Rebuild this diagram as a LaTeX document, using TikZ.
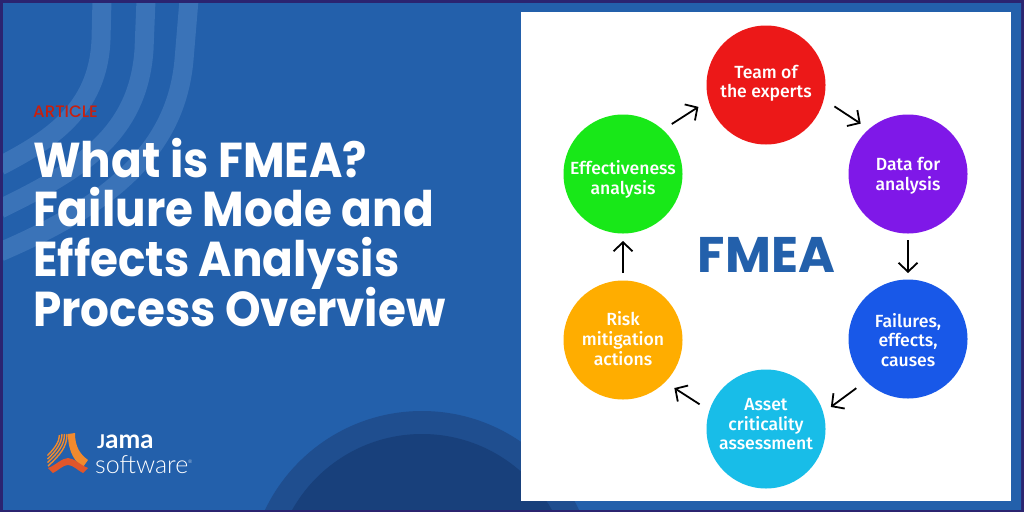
\documentclass[tikz,border=0pt]{standalone}
\usepackage{fontspec}
\usetikzlibrary{arrows.meta}
\setmainfont{Fira Sans Medium}
\newfontfamily\titlefont{Poppins}[UprightFont=* Bold,FakeStretch=0.925]
\newfontfamily\fmeafont{Poppins}[UprightFont=* Bold]
\newfontfamily\articlefont{Poppins}[UprightFont=* Medium]
\newfontfamily\logolight{Lato Light}
\newfontfamily\logobold{Lato}[UprightFont=* Bold]
\newcommand\stagetext[2]{\raisebox{#1}[0pt][0pt]{\begin{tabular}{@{}c@{}}#2\end{tabular}}}
\definecolor{bgblue}{HTML}{2360AB}
\definecolor{navy}{HTML}{2B2470}
\definecolor{bandblue}{HTML}{3A73B8}
\definecolor{arcA}{HTML}{1F4E8F}
\definecolor{arcB}{HTML}{18407B}
\definecolor{fmeablue}{HTML}{2360AB}
\definecolor{artred}{HTML}{C8200E}
\definecolor{cTeam}{HTML}{EC1818}
\definecolor{cData}{HTML}{7F18E8}
\definecolor{cFail}{HTML}{1858E8}
\definecolor{cAsset}{HTML}{18BDE8}
\definecolor{cRisk}{HTML}{FFAD00}
\definecolor{cEff}{HTML}{18E818}
\definecolor{logoA}{HTML}{E0562B}
\definecolor{logoB}{HTML}{F08A2E}
\tikzset{
  stage/.style={circle,minimum size=119pt,inner sep=0pt,outer sep=0pt,text=white,font=\fontsize{17.6}{19.5}\selectfont},
  flow/.style={line width=1.8pt,-{Straight Barb[length=9pt,width=19pt,line width=1.8pt]}},
  band/.style={line width=19pt,bandblue},
  stripe/.style={line width=1.4pt,logoB},
  headline/.style={anchor=base west,text=white,font=\titlefont\fontsize{49}{49}\selectfont,inner sep=0pt},
}
\begin{document}
\begin{tikzpicture}[x=1pt,y=-1pt]
\useasboundingbox (0,0) rectangle (1024,512);
\fill[navy] (0,0) rectangle (1024,512);
\begin{scope}
\clip (3,3) rectangle (1021,509);
\fill[bgblue] (0,0) rectangle (1024,512);
\draw[band] (102,0) -- (101,40) .. controls (98,110) and (50,140) .. (0,166);
\draw[band] (146,0) -- (144,50) .. controls (138,135) and (80,170) .. (0,209);
\draw[band] (189,0) -- (184,60) .. controls (176,150) and (110,205) .. (0,252);
\fill[arcA] (422,585) circle (174);
\fill[arcB] (422,583) circle (149);
\end{scope}
\fill[white] (521,12) rectangle (1011,501);
\node[anchor=base west,text=artred,font=\articlefont\fontsize{16.6}{16.6}\selectfont,inner sep=0pt] (art) at (33,117) {ARTICLE};
\node[headline] (t1) at (33,177) {What is FMEA?};
\node[headline] (t2) at (33,226) {Failure Mode and};
\node[headline] (t3) at (33,276) {Effects Analysis};
\node[headline] (t4) at (33,326) {Process Overview};
\node[text=fmeablue,font=\fmeafont\fontsize{50}{50}\selectfont,inner sep=0pt] (fmea) at (766.5,255) {FMEA};
\node[stage,fill=cTeam] (team) at (766,85) {\stagetext{-3.5pt}{Team of\\the experts}};
\node[stage,fill=cData] (data) at (908,174) {\stagetext{-6.5pt}{Data for\\analysis}};
\node[stage,fill=cFail] (fail) at (908,339) {\stagetext{-8pt}{Failures,\\effects,\\causes}};
\node[stage,fill=cAsset] (asset) at (766,429) {\stagetext{-1.7pt}{Asset\\criticality\\assessment}};
\node[stage,fill=cRisk] (risk) at (623,340) {\stagetext{-6pt}{Risk\\mitigation\\actions}};
\node[stage,fill=cEff] (eff) at (623,174) {\stagetext{-10.5pt}{Effectiveness\\analysis}};
\draw[flow,shorten <=12.8pt,shorten >=9.9pt] (team.-14.4) -- (data.131.5);
\draw[flow,shorten <=6.5pt,shorten >=6.5pt] (data.-90) -- (fail.90);
\draw[flow,shorten <=12pt,shorten >=9.5pt] (fail.225.6) -- (asset.16.9);
\draw[flow,shorten <=11.7pt,shorten >=11pt] (asset.162.8) -- (risk.-45);
\draw[flow,shorten <=7.5pt,shorten >=7.5pt] (risk.90) -- (eff.-90);
\draw[flow,shorten <=10.6pt,shorten >=12pt] (eff.48) -- (team.195.4);
% logo
\fill[logoB] (68,434) -- (75,433) .. controls (75,447) and (80,454) .. (88,460) -- (83,467) .. controls (76,463) and (68,453) .. (68,434) -- cycle;
\draw[stripe] (67,434) .. controls (67,447) and (60,455) .. (48,466);
\draw[stripe] (64.5,434) .. controls (64.5,445) and (58,453) .. (47.5,462.5);
\draw[stripe] (62,434) .. controls (62,443) and (56,451) .. (47.5,459);
\draw[stripe] (59.5,435) .. controls (59.5,442) and (54,449) .. (47.5,455.5);
\fill[logoA] (48,468) .. controls (56,465) and (62,458) .. (68,458) .. controls (74,458) and (80,465) .. (88,468) -- (83,473) .. controls (77,470) and (73,465) .. (68,465) .. controls (63,465) and (59,470) .. (53,473) -- cycle;
\node[anchor=base west,text=white,font=\logobold\fontsize{26}{26}\selectfont,inner sep=0pt] (jama) at (97,448) {{\fontsize{19}{19}\selectfont J}ama};
\node[anchor=base west,text=white,font=\logolight\fontsize{25}{25}\selectfont,inner sep=0pt] (soft) at (95,473) {software};
\node[anchor=base west,text=white,font=\logolight\fontsize{5}{5}\selectfont,inner sep=0pt] (reg) at (188,463) {®};
\end{tikzpicture}
\end{document}
